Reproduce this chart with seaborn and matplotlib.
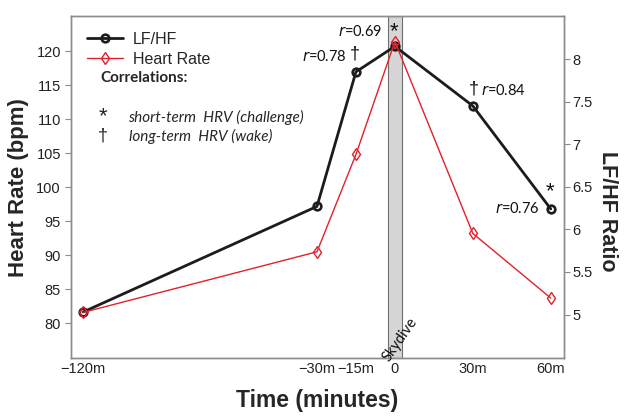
import numpy as np
import pandas as pd
import matplotlib
matplotlib.use("Agg")
import matplotlib.pyplot as plt
import seaborn as sns

# =======================================
# Data
# =======================================
TIME_MIN = [-120, -30, -15, 0, 30, 60]
TICK_LABELS = ["\u2212120m", "\u221230m", "\u221215m", "0", "30m", "60m"]
LFHF = [5.03, 6.27, 7.85, 8.15, 7.45, 6.24]
HEART_RATE = [81.6, 90.5, 104.8, 121.4, 93.2, 83.7]

# correlation notes: (time index, mark, r text)
CORR_NOTES = [
    (2, "\u2020", "0.78"),
    (3, "*", "0.69"),
    (4, "\u2020", "0.84"),
    (5, "*", "0.76"),
]

HR_TICKS = [80, 85, 90, 95, 100, 105, 110, 115, 120]
LF_TICKS = [5, 5.5, 6, 6.5, 7, 7.5, 8]

df = pd.DataFrame({"time": TIME_MIN, "lfhf": LFHF, "hr": HEART_RATE})

# =======================================
# Style
# =======================================
sns.set_style("white")
plt.rcParams["font.family"] = ["Liberation Sans", "DejaVu Sans"]
NOTE_FONT = ["Lato", "DejaVu Sans"]
MARK_FONT = ["Liberation Sans", "DejaVu Sans"]
AXIS_GREY = "#8c8c8c"
RED = "#e3202b"
BLACK = "#1c1c1c"

fig = plt.figure(figsize=(6.29, 4.18), dpi=100)
ax = fig.add_axes([0.1124, 0.1428, 0.7847, 0.8189])
ax2 = ax.twinx()
# heart rate axis on top so the red line draws over the black one
ax.set_zorder(ax2.get_zorder() + 1)
ax.patch.set_visible(False)

# Skydive band
ax2.axvspan(-2.7, 2.7, facecolor="#d6d6d6", edgecolor="#6e6e6e", lw=0.8, zorder=0)

sns.lineplot(data=df, x="time", y="lfhf", ax=ax2, color=BLACK, lw=2.0,
             marker="o", markersize=5.5, markerfacecolor="none",
             markeredgecolor=BLACK, markeredgewidth=1.9, label="LF/HF",
             legend=False, zorder=3)
sns.lineplot(data=df, x="time", y="hr", ax=ax, color=RED, lw=1.0,
             marker="d", markersize=6.5, markerfacecolor="none",
             markeredgecolor=RED, markeredgewidth=1.0, label="Heart Rate",
             legend=False, zorder=4)

# =======================================
# Axes
# =======================================
ax.set_xlim(-124.8, 65.2)
ax.set_ylim(74.85, 125.15)
ax2.set_ylim(4.486, 8.506)

ax.set_xticks(TIME_MIN)
ax.set_xticklabels(TICK_LABELS)
ax.set_yticks(HR_TICKS)
ax2.set_yticks(LF_TICKS)
ax2.set_yticklabels([f"{v:g}" for v in LF_TICKS])

for a in (ax, ax2):
    for sp in a.spines.values():
        sp.set_color(AXIS_GREY)
        sp.set_linewidth(1.0)
ax.tick_params(axis="x", direction="in", length=5, color=AXIS_GREY,
               labelsize=10.5, labelcolor="#222222", pad=3)
ax.tick_params(axis="y", direction="out", length=4, color=AXIS_GREY,
               labelsize=10.5, labelcolor="#222222", pad=3)
ax2.tick_params(axis="y", direction="out", length=4, color=AXIS_GREY,
                labelsize=10.5, labelcolor="#222222", pad=2)

ax.set_xlabel("Time (minutes)", fontsize=16.5, fontweight="bold", labelpad=9)
ax.set_ylabel("Heart Rate (bpm)", fontsize=16, fontweight="bold", labelpad=5)
ax2.set_ylabel("LF/HF Ratio", fontsize=15.5, fontweight="bold", rotation=-90,
               va="center", ha="center")
ax2.yaxis.set_label_coords(1.087, 0.43)

# =======================================
# Annotations
# =======================================
note_kw = dict(textcoords="offset pixels", fontsize=10.5, family=NOTE_FONT,
               color="#111111", zorder=6)
star_kw = {**note_kw, "fontsize": 16, "family": MARK_FONT}
dag_kw = {**note_kw, "fontsize": 13, "family": MARK_FONT}
for idx, mark, rtxt in CORR_NOTES:
    xy = (TIME_MIN[idx], LFHF[idx])
    rlabel = "$\\it{r}$=" + rtxt
    mkw = star_kw if mark == "*" else dag_kw
    if idx == 2:
        ax2.annotate(rlabel, xy, xytext=(-9, 15), ha="right", va="center", **note_kw)
        ax2.annotate(mark, xy, xytext=(-1, 18), ha="center", va="center", **mkw)
    elif idx == 3:
        ax2.annotate(rlabel, xy, xytext=(-12, 15), ha="right", va="center", **note_kw)
        ax2.annotate(mark, xy, xytext=(-1, 15), ha="center", va="center", **mkw)
    elif idx == 4:
        ax2.annotate(mark, xy, xytext=(1, 17), ha="center", va="center", **mkw)
        ax2.annotate(rlabel, xy, xytext=(8, 15), ha="left", va="center", **note_kw)
    else:
        ax2.annotate(rlabel, xy, xytext=(-11, 0), ha="right", va="center", **note_kw)
        ax2.annotate(mark, xy, xytext=(-1, 17), ha="center", va="center", **mkw)

ax.text(2, 77.6, "Skydive", rotation=55, ha="center", va="center",
        fontsize=10.5, family=NOTE_FONT, color="#111111", zorder=6)

# legend built from both axes
h1, l1 = ax2.get_legend_handles_labels()
h2, l2 = ax.get_legend_handles_labels()
leg = ax.legend(h1 + h2, l1 + l2, loc="upper left", bbox_to_anchor=(0.0, 1.0),
                frameon=False, fontsize=11.5, handlelength=2.3, handletextpad=0.6,
                borderaxespad=0.6, labelspacing=0.3)

ax.text(0.06, 0.82, "Correlations:", transform=ax.transAxes, fontsize=11,
        fontweight="bold", family=NOTE_FONT, va="center")
ax.text(0.065, 0.705, "*", transform=ax.transAxes, fontsize=16,
        family=MARK_FONT, va="center", ha="center")
ax.text(0.116, 0.705, "short-term  HRV (challenge)", transform=ax.transAxes,
        fontsize=11, style="italic", family=NOTE_FONT, va="center")
ax.text(0.066, 0.648, "\u2020", transform=ax.transAxes, fontsize=13,
        family=MARK_FONT, va="center", ha="center")
ax.text(0.118, 0.648, "long-term  HRV (wake)", transform=ax.transAxes,
        fontsize=11, style="italic", family=NOTE_FONT, va="center")

fig.savefig("out.png", dpi=100)
